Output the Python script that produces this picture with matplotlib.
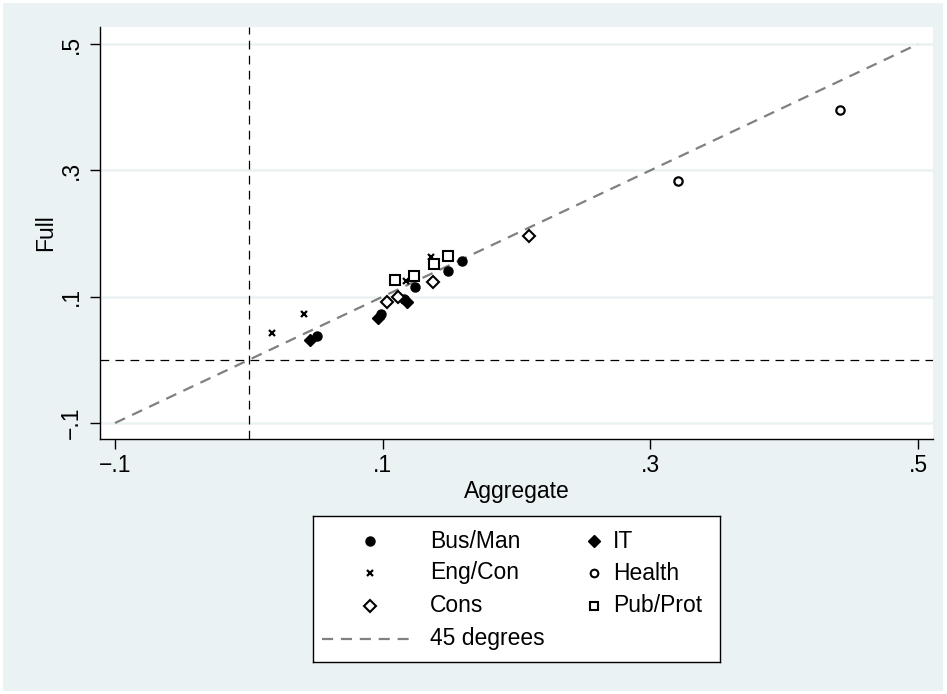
import matplotlib
matplotlib.use("Agg")
import matplotlib.pyplot as plt
from matplotlib.patches import Rectangle

plt.rcParams['font.family'] = ['Liberation Sans', 'DejaVu Sans']

# ---- data ----
bus_x = [0.0509, 0.0988, 0.1162, 0.1244, 0.1486, 0.1594]
bus_y = [0.0383, 0.0726, 0.0959, 0.1159, 0.1407, 0.1570]
it_x = [0.0459, 0.0962, 0.1182]
it_y = [0.0314, 0.0658, 0.0916]
eng_x = [0.0172, 0.0409, 0.1175, 0.1364]
eng_y = [0.0420, 0.0726, 0.1253, 0.1623]
health_x = [0.3207, 0.4416]
health_y = [0.2831, 0.3955]
cons_x = [0.1032, 0.1112, 0.1377, 0.2090]
cons_y = [0.0920, 0.1000, 0.1237, 0.1960]
pub_x = [0.1095, 0.1237, 0.1387, 0.1486]
pub_y = [0.1264, 0.1327, 0.1517, 0.1644]
ref_line = [-0.1, 0.5]
ticks = [-0.1, 0.1, 0.3, 0.5]
tick_labels = ['\u2212.1', '.1', '.3', '.5']

W, H = 947, 694
fig = plt.figure(figsize=(W / 100, H / 100), dpi=100)
fig.patch.set_facecolor('white')
BG = '#EAF2F3'
fig.patches.append(Rectangle((3 / W, 3 / H), (W - 7) / W, (H - 6) / H,
                             transform=fig.transFigure, facecolor=BG,
                             edgecolor='none', zorder=-10))

ax = fig.add_axes([100 / W, 1 - 439 / H, (933 - 100) / W, (439 - 27) / H])
ax.set_facecolor('white')
ax.set_xlim(-0.1112, 0.5112)
ax.set_ylim(-0.1253, 0.527)

for s in ['top', 'right']:
    ax.spines[s].set_visible(False)
for s in ['left', 'bottom']:
    ax.spines[s].set_color('black')
    ax.spines[s].set_linewidth(1.0)

ax.set_xticks(ticks)
ax.set_xticklabels(tick_labels, fontsize=16.5)
ax.set_yticks(ticks)
ax.set_yticklabels(tick_labels, fontsize=16.5, rotation=90, va='center')
ax.tick_params(direction='out', length=7, width=1, color='black', pad=4)
ax.tick_params(axis='y', pad=5)
ax.grid(axis='y', color=BG, linewidth=1.8, zorder=0)
ax.set_axisbelow(True)
ax.set_xlabel('Aggregate', fontsize=16.5, labelpad=2)
ax.set_ylabel('Full', fontsize=16.5, labelpad=2)

ax.axhline(0, color='black', linewidth=0.9, linestyle=(0, (7, 5)), zorder=1)
ax.axvline(0, color='black', linewidth=0.9, linestyle=(0, (7, 5)), zorder=1)
ax.plot(ref_line, ref_line, color='#808080', linewidth=1.6,
        linestyle=(0, (5, 3.5)), zorder=2)

ax.plot(bus_x, bus_y, 'o', color='black', markersize=6.5, zorder=3)
ax.plot(it_x, it_y, 'D', color='black', markersize=6.5, zorder=3)
ax.plot(eng_x, eng_y, 'x', color='black', markersize=5, mew=1.6, zorder=3)
ax.plot(health_x, health_y, 'o', mfc='white', mec='black', markersize=6,
        mew=1.6, zorder=3)
ax.plot(cons_x, cons_y, 'D', mfc='white', mec='black', markersize=6.5,
        mew=1.5, zorder=3)
ax.plot(pub_x, pub_y, 's', mfc='white', mec='black', markersize=6.5,
        mew=1.5, zorder=3)

# ---- legend (manual, pixel layout) ----
lg = fig.add_axes([313 / W, 1 - 662 / H, (720 - 313) / W, (662 - 516) / H])
lg.set_xlim(313, 720)
lg.set_ylim(662, 516)
lg.set_xticks([])
lg.set_yticks([])
lg.set_facecolor('white')
for s in lg.spines.values():
    s.set_color('black')
    s.set_linewidth(1.0)

rows = [541, 573, 606, 639]
fs = 16.5
entries_left = [('Bus/Man', dict(marker='o', color='black', markersize=6.5)),
                ('Eng/Con', dict(marker='x', color='black', markersize=4.5, mew=1.6)),
                ('Cons', dict(marker='D', mfc='white', mec='black', markersize=6, mew=1.5))]
entries_right = [('IT', dict(marker='D', color='black', markersize=6.5)),
                 ('Health', dict(marker='o', mfc='white', mec='black', markersize=5.5, mew=1.5)),
                 ('Pub/Prot', dict(marker='s', mfc='white', mec='black', markersize=5.5, mew=1.5))]
for (lab, st), yy in zip(entries_left, rows):
    lg.plot([370], [yy], linestyle='none', **st)
    lg.text(430, yy, lab, fontsize=fs, va='center', ha='left')
for (lab, st), yy in zip(entries_right, rows):
    lg.plot([594], [yy], linestyle='none', **st)
    lg.text(613, yy, lab, fontsize=fs, va='center', ha='left')
lg.plot([322, 411], [rows[3], rows[3]], color='#808080', linewidth=1.6,
        linestyle=(0, (5, 3.5)))
lg.text(430, rows[3], '45 degrees', fontsize=fs, va='center', ha='left')

fig.savefig('out.png', dpi=100, facecolor=fig.get_facecolor())
